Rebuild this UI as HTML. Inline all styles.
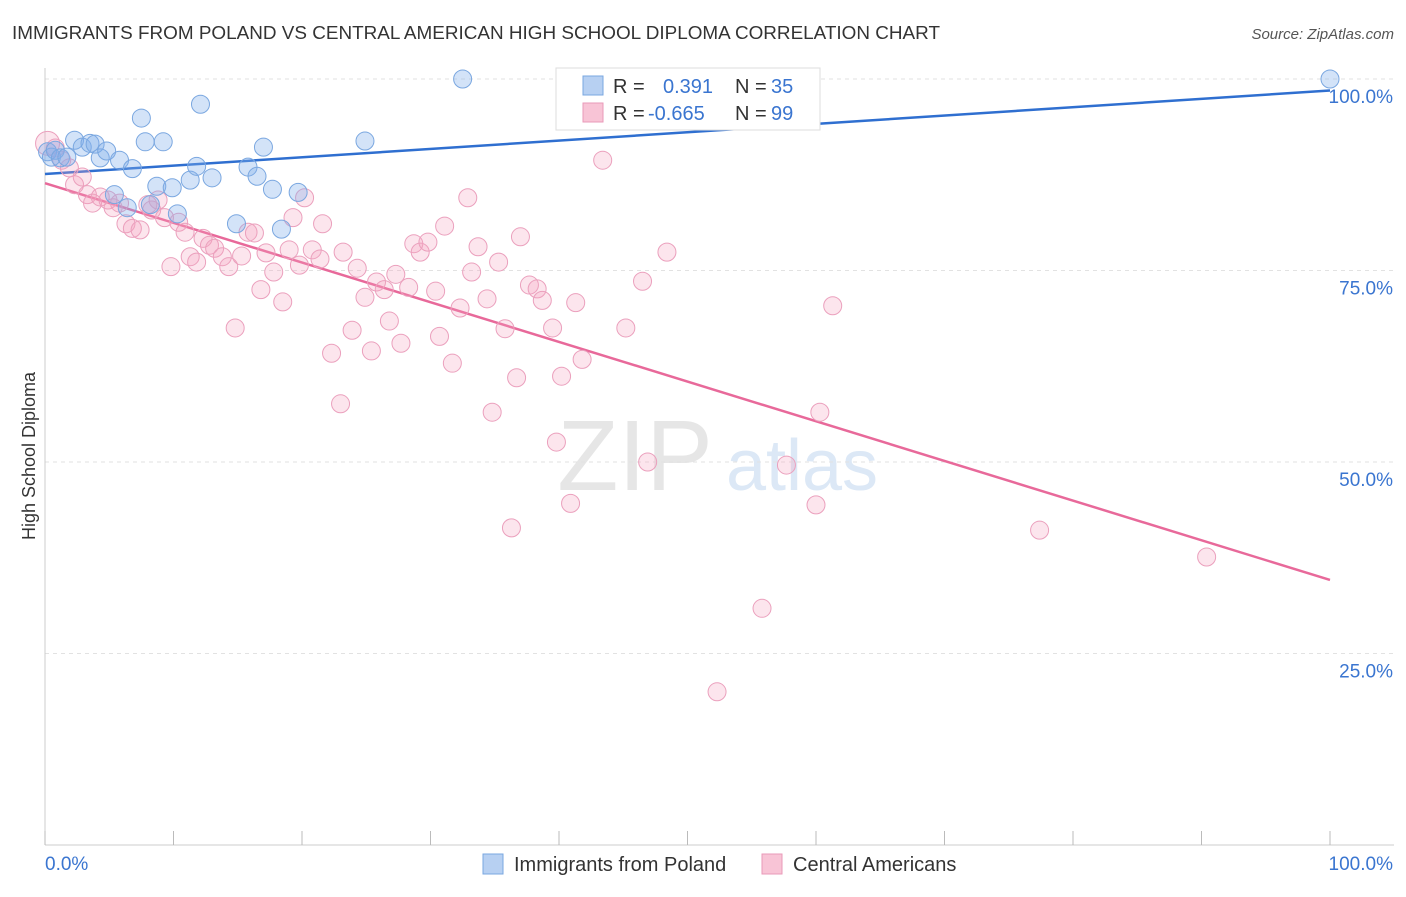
<!DOCTYPE html>
<html><head><meta charset="utf-8"><style>
body{margin:0;background:#fff;font-family:"Liberation Sans",sans-serif;}
svg text{font-family:"Liberation Sans",sans-serif;}
</style></head><body>
<svg id="chart" width="1406" height="892" xmlns="http://www.w3.org/2000/svg">
<text x="12" y="39" font-size="18" fill="#333" textLength="928" lengthAdjust="spacingAndGlyphs">IMMIGRANTS FROM POLAND VS CENTRAL AMERICAN HIGH SCHOOL DIPLOMA CORRELATION CHART</text>
<text x="1394" y="39" font-size="15" fill="#555" text-anchor="end" font-style="italic">Source: ZipAtlas.com</text>
<text x="35" y="456" font-size="18" fill="#333" text-anchor="middle" transform="rotate(-90 35 456)">High School Diploma</text>
<g><text x="635" y="490" font-size="100" fill="#e6e6e6" text-anchor="middle" font-family="Liberation Serif, serif">ZIP</text><text x="802" y="490" font-size="72" fill="#dce8f6" text-anchor="middle">atlas</text></g>
<g id="grid"></g><g id="axes"></g><g id="lines"></g><g id="points"></g>
<g>
<rect x="556" y="68" width="264" height="62" fill="#fff" stroke="#ddd"/>
<rect x="583" y="76" width="20" height="19" fill="#b7d0f2" stroke="#7aa7e0"/>
<text x="613" y="93" font-size="20" fill="#333">R = </text><text x="663" y="93" font-size="20" fill="#3a75d0">0.391</text>
<text x="735" y="93" font-size="20" fill="#333">N = </text><text x="771" y="93" font-size="20" fill="#3a75d0">35</text>
<rect x="583" y="103" width="20" height="19" fill="#f8c4d6" stroke="#e99ab8"/>
<text x="613" y="120" font-size="20" fill="#333">R = </text><text x="648" y="120" font-size="20" fill="#3a75d0">-0.665</text>
<text x="735" y="120" font-size="20" fill="#333">N = </text><text x="771" y="120" font-size="20" fill="#3a75d0">99</text>
</g>
<g>
<rect x="483" y="854" width="20" height="20" fill="#b7d0f2" stroke="#7aa7e0"/>
<text x="514" y="871" font-size="20" fill="#333">Immigrants from Poland</text>
<rect x="762" y="854" width="20" height="20" fill="#f8c4d6" stroke="#e99ab8"/>
<text x="793" y="871" font-size="20" fill="#333">Central Americans</text>
</g>
</svg>
<script>
const yTicks=[25,50,75,100];
const yTickLabels=["25.0%","50.0%","75.0%","100.0%"];
const xTicks=[0,10,20,30,40,50,60,70,80,90,100];
const polandX=[0.2,0.5,0.8,1.2,1.7,2.3,2.9,3.5,3.9,4.3,4.8,5.8,6.8,7.5,7.8,8.7,9.2,9.9,10.3,11.3,11.8,12.1,13.0,14.9,15.8,16.5,17.0,17.7,18.4,19.7,24.9,32.5,100,5.4,6.4,8.2];
const polandY=[90.5,89.8,90.7,89.7,89.8,92.0,91.1,91.6,91.5,89.7,90.6,89.4,88.3,94.9,91.8,86.0,91.8,85.8,82.4,86.8,88.6,96.7,87.1,81.1,88.5,87.3,91.1,85.6,80.4,85.2,91.9,100,100,84.9,83.2,83.6];
const centralX=[0.2,0.8,1.3,1.9,2.3,2.9,3.3,3.7,4.3,4.9,5.3,5.8,6.3,6.8,7.4,8.0,8.3,8.8,9.3,9.8,10.4,10.9,11.3,11.8,12.3,12.8,13.2,13.8,14.3,14.8,15.3,15.8,16.3,16.8,17.2,17.8,18.5,19.0,19.3,19.8,20.2,20.8,21.4,21.6,22.3,23.0,23.2,23.9,24.3,24.9,25.4,25.8,26.4,26.8,27.3,27.7,28.3,28.7,29.2,29.8,30.4,30.7,31.1,31.7,32.3,32.9,33.2,33.7,34.4,34.8,35.3,35.8,36.3,36.7,37.0,37.7,38.3,38.7,39.5,39.8,40.2,40.9,41.3,41.8,43.4,45.2,46.5,46.9,48.4,52.3,55.8,57.7,60.0,60.3,61.3,77.4,90.4];
const centralY=[91.6,91.0,89.4,88.4,86.2,87.2,84.9,83.8,84.6,84.2,83.2,83.8,81.1,80.5,80.3,83.6,82.9,84.2,81.9,75.5,81.3,80.0,76.8,76.1,79.2,78.3,77.9,76.8,75.5,67.5,76.9,80.0,79.9,72.5,77.3,74.8,70.9,77.7,81.9,75.7,84.5,77.7,76.5,81.1,64.2,57.6,77.4,67.2,75.3,71.5,64.5,73.5,72.5,68.4,74.5,65.5,72.8,78.5,77.4,78.7,72.3,66.4,80.8,62.9,70.1,84.5,74.8,78.1,71.3,56.5,76.1,67.4,41.4,61.0,79.4,73.1,72.6,71.1,67.5,52.6,61.2,44.6,70.8,63.4,89.4,67.5,73.6,50.0,77.4,20.0,30.9,49.6,44.4,56.5,70.4,41.1,37.6];
const polandTrend=[87.6,98.5];
const centralTrend=[86.4,34.6];

const NS="http://www.w3.org/2000/svg";
const X0=45,X1=1330,Y0=845,Y100=79;
function sx(v){return X0+(X1-X0)*v/100;}
function sy(v){return Y0-(Y0-Y100)*v/100;}
function mk(tag,attrs,parent){const e=document.createElementNS(NS,tag);for(const k in attrs)e.setAttribute(k,attrs[k]);document.getElementById(parent).appendChild(e);return e;}

yTicks.forEach((t,i)=>{
  const g=mk('line',{x1:X0,x2:1394,y1:sy(t),y2:sy(t),stroke:'#e2e2e2','stroke-dasharray':'4,4'},'grid');
  
  
  const l=mk('text',{x:1393,y:sy(t)+24,'font-size':19,fill:'#3a75d0','text-anchor':'end'},'grid');
  l.textContent=yTickLabels[i];
  
  
});
const ax=mk('line',{x1:X0,x2:X0,y1:68,y2:Y0,stroke:'#ccc'},'axes');


const bx=mk('line',{x1:X0,x2:1394,y1:Y0,y2:Y0,stroke:'#ccc'},'axes');


xTicks.forEach(t=>{
  const tk=mk('line',{x1:sx(t),x2:sx(t),y1:Y0-14,y2:Y0,stroke:'#bbb'},'axes');
  
  
});
const xl0=mk('text',{x:45,y:870,'font-size':19,fill:'#3a75d0'},'axes');xl0.textContent='0.0%';


const xl1=mk('text',{x:1393,y:870,'font-size':19,fill:'#3a75d0','text-anchor':'end'},'axes');xl1.textContent='100.0%';



centralX.forEach((x,i)=>{
  const c=mk('circle',{cx:sx(x),cy:sy(centralY[i]),r:i===0?12:9,fill:'rgba(244,160,190,0.28)',stroke:'#eba0bd','stroke-width':1},'points');
  
  
});
polandX.forEach((x,i)=>{
  const c=mk('circle',{cx:sx(x),cy:sy(polandY[i]),r:9,fill:'rgba(130,175,235,0.35)',stroke:'#7aa7e0','stroke-width':1},'points');
  
  
});
const lb=mk('line',{x1:sx(0),y1:sy(polandTrend[0]),x2:sx(100),y2:sy(polandTrend[1]),stroke:'#2f6fd0','stroke-width':2.5},'lines');


const lp=mk('line',{x1:sx(0),y1:sy(centralTrend[0]),x2:sx(100),y2:sy(centralTrend[1]),stroke:'#e8699a','stroke-width':2.5},'lines');


</script>
</body></html>
